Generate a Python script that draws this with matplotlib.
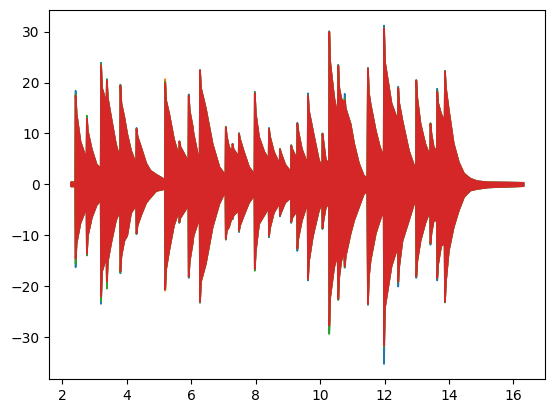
import matplotlib
matplotlib.use("Agg")
import matplotlib.pyplot as plt
import numpy as np

# note onsets (s) and peak envelope of the top (red) trace
onsets = [2.40, 2.75, 3.19, 3.37, 3.79, 4.29, 5.18, 5.62, 5.91, 6.26,
          7.06, 7.27, 7.47, 7.96, 8.40, 8.74, 9.09, 9.28, 9.61, 10.06,
          10.27, 10.55, 10.75, 11.47, 11.97, 12.41, 12.97, 13.41, 13.62, 13.86]
red_hi = [17.5, 13.0, 23.5, 20.5, 19.5, 11.0, 20.0, 8.5, 17.5, 22.5,
          11.3, 8.0, 10.0, 18.0, 11.0, 7.0, 7.7, 12.0, 17.5, 10.0,
          30.0, 23.4, 16.6, 22.8, 30.8, 19.0, 20.5, 12.0, 18.3, 22.3]
red_lo = [-14.5, -13.5, -22.0, -19.0, -17.0, -9.5, -20.5, -7.3, -18.0, -23.0,
          -10.6, -6.6, -9.0, -16.5, -10.0, -6.0, -7.3, -12.5, -18.5, -8.5,
          -27.6, -22.4, -16.0, -23.4, -31.6, -19.0, -18.0, -11.5, -18.3, -23.0]

# other traces: only their peaks stick out past the red one
blue_hi = [18.5, 13.2, 24.0, 20.8, 19.7, 11.2, 20.2, 8.6, 17.8, 22.6,
           11.4, 8.1, 10.2, 18.3, 11.2, 7.1, 7.8, 12.2, 18.0, 10.1,
           30.2, 23.6, 17.9, 23.0, 31.3, 19.3, 20.6, 12.1, 18.9, 22.4]
blue_lo = [-16.2, -13.7, -23.4, -19.3, -17.4, -9.7, -20.6, -7.5, -18.3, -23.2,
           -10.8, -6.8, -9.3, -16.7, -10.3, -6.2, -7.5, -13.0, -18.8, -8.7,
           -28.5, -22.6, -16.3, -23.6, -35.2, -20.0, -18.3, -11.8, -18.8, -23.1]
orange_hi = [17.6, 13.0, 23.6, 20.5, 19.5, 11.0, 20.8, 8.5, 17.5, 22.5,
             11.3, 8.0, 10.0, 18.0, 11.0, 7.0, 7.7, 12.0, 17.5, 10.0,
             30.0, 23.4, 16.6, 22.8, 30.8, 19.0, 20.5, 12.0, 18.3, 22.3]
orange_lo = [-14.6, -13.5, -22.1, -19.1, -17.0, -9.5, -20.8, -7.3, -18.0, -23.0,
             -10.6, -6.6, -9.0, -16.5, -10.0, -6.0, -7.3, -12.5, -18.5, -8.5,
             -27.8, -22.4, -16.0, -23.4, -31.7, -19.0, -18.0, -11.5, -18.3, -23.0]
green_hi = [17.8, 13.6, 23.8, 20.7, 19.6, 11.0, 20.3, 8.5, 17.6, 22.5,
            11.4, 8.0, 10.1, 18.2, 11.1, 7.0, 7.8, 12.1, 17.6, 10.1,
            30.1, 23.5, 17.0, 22.9, 30.9, 19.1, 20.6, 12.1, 18.5, 22.4]
green_lo = [-15.5, -13.9, -22.9, -20.4, -17.2, -9.6, -20.6, -7.4, -18.1, -23.1,
            -10.7, -6.7, -9.1, -16.9, -10.1, -6.1, -7.4, -12.6, -18.6, -8.6,
            -29.3, -22.6, -16.2, -23.5, -32.0, -19.2, -18.1, -11.6, -18.4, -23.1]

# decay envelope between the notes (shared by all traces)
decay_t = [2.26, 2.39,
           2.43, 2.55, 2.74,
           2.78, 2.90, 3.05, 3.18,
           3.22, 3.36,
           3.40, 3.50, 3.65, 3.78,
           3.82, 3.91, 4.00, 4.12, 4.28,
           4.32, 4.43, 4.59, 4.72, 4.90, 5.17,
           5.21, 5.30, 5.45, 5.61,
           5.65, 5.90,
           5.94, 6.03, 6.06, 6.19, 6.25,
           6.29, 6.44, 6.65, 6.86, 7.05,
           7.09, 7.16, 7.26,
           7.30, 7.46,
           7.50, 7.62, 7.78, 7.95,
           7.99, 8.09, 8.25, 8.39,
           8.43, 8.55, 8.73,
           8.77, 8.90, 9.08,
           9.12, 9.27,
           9.31, 9.42, 9.60,
           9.64, 9.75, 9.80, 9.95, 10.05,
           10.09, 10.16, 10.26,
           10.30, 10.42, 10.53,
           10.58, 10.64, 10.73,
           10.78, 10.93, 11.04, 11.19, 11.34, 11.45,
           11.50, 11.55, 11.71, 11.84, 11.96,
           12.00, 12.10, 12.20, 12.40,
           12.44, 12.54, 12.74, 12.90, 12.96,
           13.00, 13.10, 13.25, 13.40,
           13.44, 13.51, 13.61,
           13.65, 13.74, 13.85,
           13.89, 13.98, 14.13, 14.29, 14.45, 14.65, 14.86, 15.20, 16.30]
decay_hi = [0.5, 0.5,
            14.0, 8.5, 5.0,
            10.5, 7.0, 4.0, 3.2,
            19.0, 16.0,
            17.0, 13.3, 8.0, 5.0,
            16.0, 13.3, 10.0, 6.7, 4.0,
            9.5, 7.4, 4.2, 2.8, 2.0, 1.0,
            16.5, 14.0, 9.0, 5.5,
            7.5, 4.5,
            14.5, 11.5, 10.0, 6.0, 5.5,
            19.0, 15.0, 8.0, 3.5, 1.8,
            9.5, 7.4, 6.5,
            7.0, 5.5,
            9.0, 6.5, 3.5, 2.0,
            14.0, 9.4, 6.5, 5.0,
            9.5, 6.5, 4.0,
            6.3, 4.0, 2.5,
            7.0, 5.0,
            10.5, 7.0, 4.0,
            14.5, 11.0, 9.4, 4.8, 3.5,
            8.5, 5.0, 4.0,
            24.0, 17.2, 13.3,
            19.0, 17.0, 16.0,
            15.0, 12.0, 8.1, 4.2, 1.8, 1.3,
            18.0, 15.9, 10.7, 7.4, 5.5,
            24.0, 20.0, 16.0, 12.5,
            16.0, 12.6, 6.7, 3.8, 3.0,
            17.0, 12.0, 8.0, 5.5,
            10.0, 7.4, 6.5,
            16.0, 13.9, 12.5,
            19.0, 14.6, 8.1, 4.4, 2.2, 1.2, 0.7, 0.5, 0.4]
decay_lo = [-0.3, -0.3,
            -11.5, -7.5, -4.5,
            -10.0, -6.5, -4.0, -3.0,
            -17.0, -14.0,
            -15.0, -11.5, -7.0, -5.0,
            -14.0, -11.0, -10.0, -5.5, -4.0,
            -8.0, -6.0, -3.5, -2.5, -1.2, -0.8,
            -16.5, -13.0, -8.0, -5.0,
            -6.5, -4.0,
            -15.0, -11.5, -10.0, -7.5, -6.5,
            -19.0, -15.5, -8.3, -3.7, -1.2,
            -9.0, -8.3, -6.0,
            -6.0, -5.0,
            -8.0, -6.0, -3.5, -2.0,
            -13.0, -7.7, -6.0, -4.5,
            -8.5, -5.5, -3.5,
            -5.5, -3.5, -2.5,
            -6.5, -5.0,
            -10.5, -7.0, -3.5,
            -15.0, -10.5, -9.0, -5.0, -3.5,
            -7.0, -4.5, -3.5,
            -22.0, -16.2, -13.5,
            -18.0, -15.0, -13.0,
            -14.0, -9.6, -7.0, -4.4, -1.8, -1.3,
            -18.0, -14.9, -9.6, -7.0, -5.0,
            -24.0, -20.0, -16.0, -12.0,
            -16.0, -11.0, -7.0, -3.7, -3.0,
            -15.0, -11.0, -7.5, -5.0,
            -9.5, -7.0, -7.0,
            -15.5, -12.0, -11.5,
            -19.0, -12.9, -8.3, -5.0, -2.4, -1.1, -0.8, -0.5, -0.25]

series = [
    ("tab:blue", blue_hi, blue_lo),
    ("tab:orange", orange_hi, orange_lo),
    ("tab:green", green_hi, green_lo),
    ("tab:red", red_hi, red_lo),
]

fig = plt.figure(figsize=(5.54, 4.13), dpi=100)
ax = fig.add_axes([0.089, 0.0823, 0.8948, 0.8927])

for color, hi, lo in series:
    t = np.array(onsets + decay_t)
    up = np.array(hi + decay_hi)
    dn = np.array(lo + decay_lo)
    order = np.argsort(t, kind="stable")
    ax.fill_between(t[order], dn[order], up[order], color=color, lw=1.2)

ax.set_xlim(1.6, 16.98)
ax.set_ylim(-38.25, 34.2)
ax.set_xticks([2, 4, 6, 8, 10, 12, 14, 16])
ax.set_yticks([-30, -20, -10, 0, 10, 20, 30])

fig.savefig("out.png", dpi=100)
